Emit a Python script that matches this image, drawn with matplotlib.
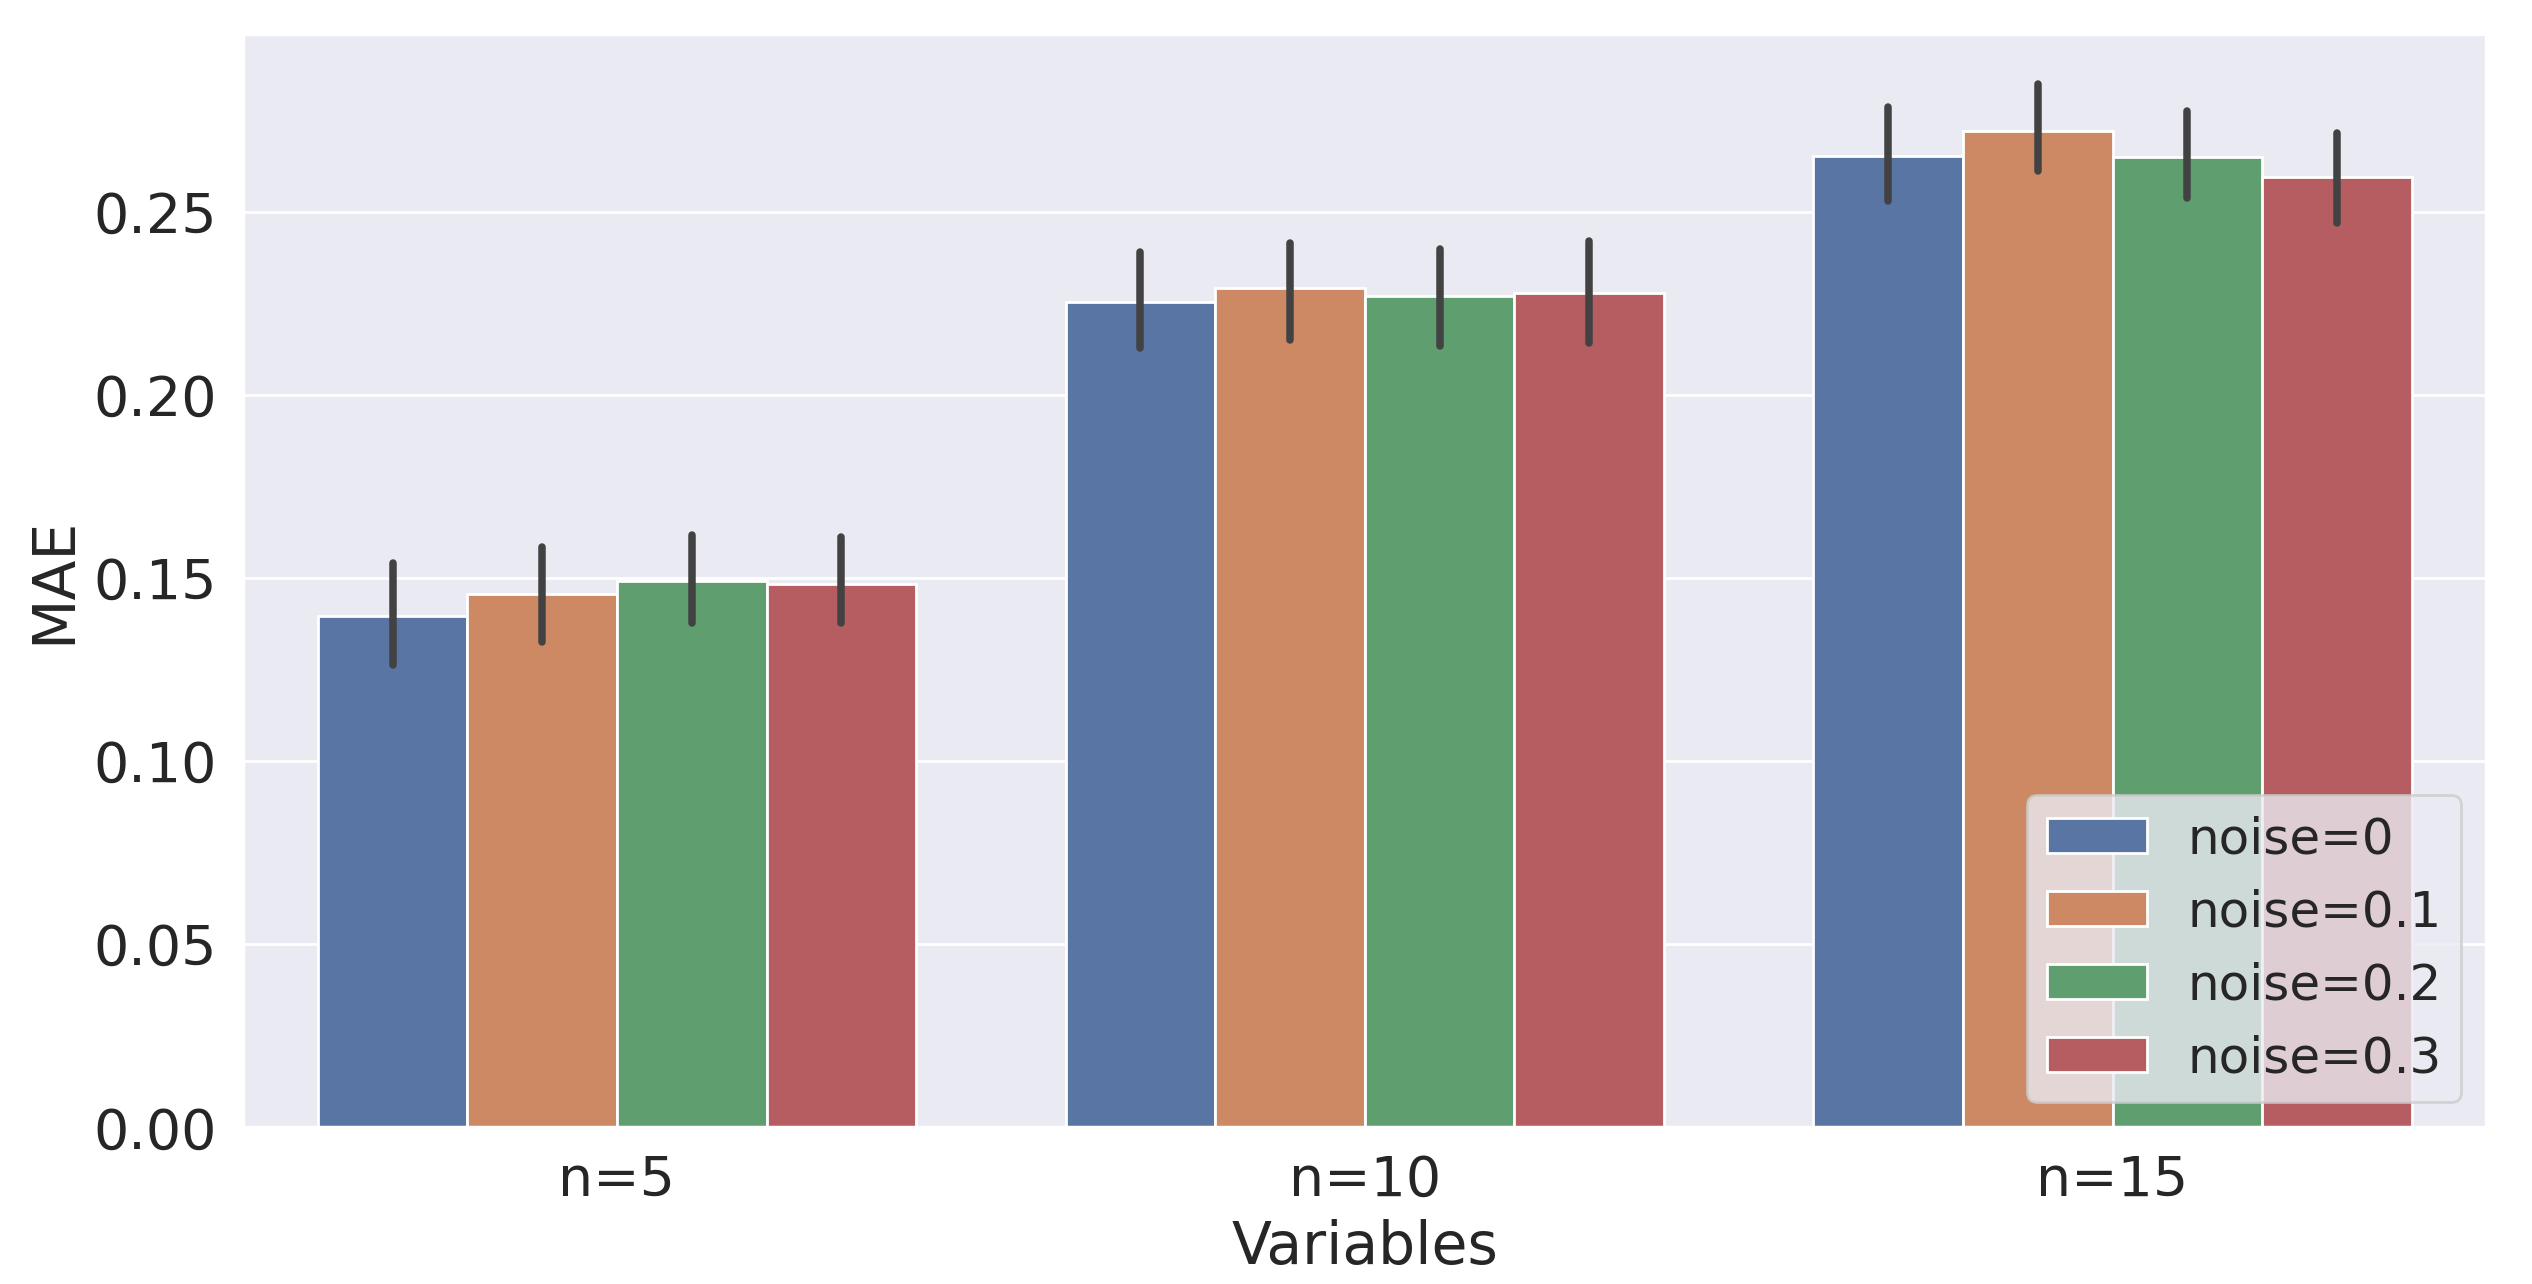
import numpy as np
import matplotlib
matplotlib.use('Agg')
import matplotlib.pyplot as plt
import seaborn as sns

# Datos
variables = ['n=5', 'n=10', 'n=15']
noises = ['noise=0', 'noise=0.1', 'noise=0.2', 'noise=0.3']

mae = [[0.1396, 0.2253, 0.2653],
       [0.1458, 0.2292, 0.2722],
       [0.1493, 0.2270, 0.2650],
       [0.1484, 0.2279, 0.2595]]
ci_low = [[0.1263, 0.2129, 0.2529],
          [0.1325, 0.2151, 0.2613],
          [0.1378, 0.2133, 0.2539],
          [0.1378, 0.2142, 0.2469]]
ci_high = [[0.1542, 0.2390, 0.2788],
           [0.1586, 0.2416, 0.2849],
           [0.1617, 0.2398, 0.2776],
           [0.1612, 0.2420, 0.2717]]

sns.set_theme(style='darkgrid', font_scale=1.8)
plt.rcParams['font.family'] = ['DejaVu Sans']

colors = [sns.desaturate(c, 0.75) for c in sns.color_palette('deep', 4)]

fig = plt.figure(figsize=(12.66, 6.42), dpi=200)
ax = fig.add_axes([0.096, 0.122, 0.886, 0.8515])

x = np.arange(len(variables))
w = 0.8 / len(noises)
for i, name in enumerate(noises):
    pos = x - 0.4 + w * (i + 0.5)
    ax.bar(pos, mae[i], width=w, color=colors[i], edgecolor='white',
           linewidth=1.0, label=name)
    ax.vlines(pos, ci_low[i], ci_high[i], color='#424242', linewidth=2.7,
              capstyle='round', zorder=3)

ax.set_xticks(x)
ax.set_xticklabels(variables)
ax.tick_params(axis='both', labelsize=20)
ax.set_xlim(-0.5, 2.5)
ax.set_ylim(0, 0.2986)
ax.xaxis.grid(False)
ax.set_xlabel('Variables', fontsize=21)
ax.set_ylabel('MAE', fontsize=21)
ax.legend(loc='lower right', fontsize=18)

plt.savefig('out.png', dpi=200)
